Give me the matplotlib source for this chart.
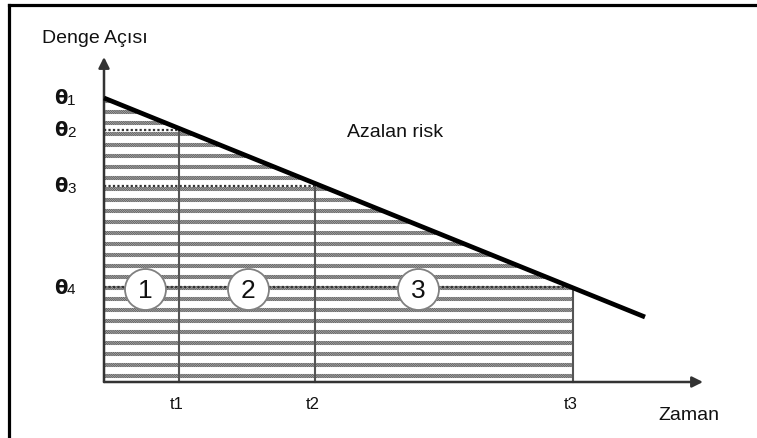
import matplotlib
matplotlib.use("Agg")
import matplotlib.pyplot as plt
from matplotlib.lines import Line2D
from matplotlib.patches import Polygon
import numpy as np

plt.rcParams['font.family'] = ['Liberation Sans', 'DejaVu Sans']

# ---- data (abstract diagram units) ----
t_labels = ['t1', 't2', 't3']
t_vals = [75, 211, 469]
theta_labels = ['θ', 'θ', 'θ', 'θ']
theta_index = ['1', '2', '3', '4']
theta_vals = [284, 252, 196, 95]
risk_t = [0, 541]
risk_theta = [284, 65]
region_labels = ['1', '2', '3']
axis_title_y = 'Denge Açısı'
axis_title_x = 'Zaman'
line_label = 'Azalan risk'

fig = plt.figure(figsize=(7.57, 4.39), dpi=100)
ax = fig.add_axes([0, 0, 1, 1])
ax.set_xlim(-104, 653)
ax.set_ylim(-56, 383)
ax.axis('off')

def risk_at(t):
    return np.interp(t, risk_t, risk_theta)

# hatched regions
bounds = [0] + t_vals
hatches = ['\\' * 18, '/' * 18, '\\' * 18]
for i in range(3):
    x0, x1 = bounds[i], bounds[i + 1]
    verts = [(x0, 0), (x1, 0), (x1, risk_at(x1)), (x0, risk_at(x0))]
    p = Polygon(verts, closed=True, facecolor='white', edgecolor='#5a5a5a',
                hatch=hatches[i], linewidth=0.0, zorder=1)
    ax.add_patch(p)
    try:
        p.set_hatch_linewidth(0.7)
    except Exception:
        pass

# white gaps between hatch rows (texture), clipped to the shaded area
area = Polygon([(0, 0), (t_vals[-1], 0), (t_vals[-1], risk_at(t_vals[-1])), (0, risk_at(0))],
               closed=True, facecolor='none', edgecolor='none', zorder=0)
ax.add_patch(area)
row_step = 11
gap_rows = theta_vals[3] + row_step / 2 + row_step * np.arange(-10, 20)
gaps = ax.hlines(gap_rows, 0, t_vals[-1], colors='white', lw=5.0, zorder=1.5)
gaps.set_clip_path(area)

# horizontal dotted theta levels
for th, tv in zip(theta_vals[1:], t_vals):
    ax.plot([0, tv], [th, th], color='#333333', lw=1.6, ls=(0, (1, 1)), zorder=2)

# vertical t lines
for tv in t_vals:
    ax.plot([tv, tv], [0, risk_at(tv)], color='#555555', lw=1.5, zorder=3)

# axes with arrows
ax.annotate('', xy=(0, 325), xytext=(0, 0),
            arrowprops=dict(arrowstyle='-|>', color='#333333', lw=1.8,
                            mutation_scale=16, shrinkA=0, shrinkB=0), zorder=4)
ax.annotate('', xy=(599, 0), xytext=(0, 0),
            arrowprops=dict(arrowstyle='-|>', color='#333333', lw=1.8,
                            mutation_scale=16, shrinkA=0, shrinkB=0), zorder=4)

# risk line
ax.plot(risk_t, risk_theta, color='black', lw=3.4, solid_capstyle='butt', zorder=5)

# region circles
fracs = [0.55, 0.51, 0.40]
for i, lab in enumerate(region_labels):
    cx = bounds[i] + fracs[i] * (bounds[i + 1] - bounds[i])
    cy = theta_vals[3] - 2
    ax.plot(cx, cy, 'o', ms=29.5, mfc='white', mec='#808080', mew=1.3, zorder=6)
    ax.text(cx, cy - 1, lab, ha='center', va='center', fontsize=19, color='#111111', zorder=7)

# theta labels
for lab, idx, th in zip(theta_labels, theta_index, theta_vals):
    ax.text(-50, th, lab, ha='left', va='center', fontsize=14, fontweight='bold',
            family=['DejaVu Sans'], color='#111111')
    ax.text(-37, th - 2, idx, ha='left', va='center', fontsize=11, color='#111111')

# t labels
for lab, tv in zip(t_labels, t_vals):
    ax.text(tv - 2, -22, lab, ha='center', va='center', fontsize=12, color='#111111')

# titles
ax.text(-62, 340, axis_title_y, ha='left', va='baseline', fontsize=14, color='#111111')
ax.text(554, -37, axis_title_x, ha='left', va='baseline', fontsize=14, color='#111111')
ax.text(243, 246, line_label, ha='left', va='baseline', fontsize=14, color='#111111')

# outer frame (top and left edges visible)
fig.add_artist(Line2D([8.5 / 757, 1], [1 - 5.5 / 439, 1 - 5.5 / 439], color='black', lw=2.3,
                      transform=fig.transFigure))
fig.add_artist(Line2D([8.5 / 757, 8.5 / 757], [0, 1 - 5.5 / 439], color='black', lw=2.3,
                      transform=fig.transFigure))

fig.savefig('out.png', dpi=100)
